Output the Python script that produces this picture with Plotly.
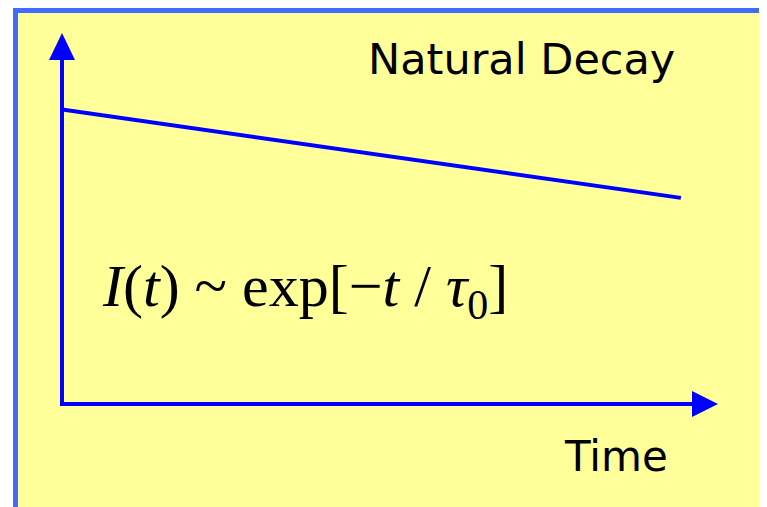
import plotly.graph_objects as go

# Data
time = [0, 10]
intensity = [1.0, 0.70]
title_text = "Natural Decay"
x_label = "Time"
formula = "<i>I</i>(<i>t</i>) ~ exp[−<i>t</i> / <i>τ</i><sub>0</sub>]"

# page has an 8px body margin; work in reference pixel coordinates
OFF = 8
W, H = 767 - OFF, 507 - OFF
L, R, T, B = 62 - OFF, 767 - 718, 33 - OFF, 507 - 404
PW, PH = W - L - R, H - T - B

def px(x):
    return (x - OFF - L) / PW

def py(y):
    return (H - B - (y - OFF)) / PH

BLUE = "#0000FF"
BORDER = "#3F6BFF"
YELLOW = "#FFFF99"

fig = go.Figure()
fig.add_trace(go.Scatter(x=time, y=intensity, mode="lines",
                         line=dict(color=BLUE, width=4), showlegend=False,
                         hoverinfo="skip"))

shapes = [
    dict(type="rect", xref="paper", yref="paper", x0=px(13), x1=px(790), y0=py(8), y1=py(530),
         fillcolor=BORDER, line=dict(width=0), layer="below"),
    dict(type="rect", xref="paper", yref="paper", x0=px(18), x1=px(790), y0=py(13), y1=py(530),
         fillcolor=YELLOW, line=dict(width=0), layer="below"),
    # axes
    dict(type="line", xref="paper", yref="paper", x0=px(62), x1=px(62), y0=py(406), y1=py(58),
         line=dict(color=BLUE, width=4)),
    dict(type="line", xref="paper", yref="paper", x0=px(60), x1=px(694), y0=py(404), y1=py(404),
         line=dict(color=BLUE, width=4)),
    # arrowheads
    dict(type="path", xref="paper", yref="paper",
         path=f"M {px(49)} {py(60)} L {px(62)} {py(33)} L {px(75)} {py(60)} Z",
         fillcolor=BLUE, line=dict(width=0)),
    dict(type="path", xref="paper", yref="paper",
         path=f"M {px(692)} {py(391)} L {px(718)} {py(404)} L {px(692)} {py(417)} Z",
         fillcolor=BLUE, line=dict(width=0)),
]

annotations = [
    dict(text=title_text, xref="paper", yref="paper", x=px(677), y=py(59),
         xanchor="right", yanchor="middle", showarrow=False,
         font=dict(family="DejaVu Sans", size=43, color="black")),
    dict(text=x_label, xref="paper", yref="paper", x=px(670), y=py(456),
         xanchor="right", yanchor="middle", showarrow=False,
         font=dict(family="DejaVu Sans", size=42, color="black")),
    dict(text=formula, xref="paper", yref="paper", x=px(100), y=py(290),
         xanchor="left", yanchor="middle", showarrow=False,
         font=dict(family="Liberation Serif", size=60, color="black")),
]

fig.update_layout(
    width=W, height=H,
    margin=dict(l=L, r=R, t=T, b=B, pad=0),
    paper_bgcolor="white", plot_bgcolor="rgba(0,0,0,0)",
    xaxis=dict(range=[0, 10.6], visible=False, fixedrange=True),
    yaxis=dict(range=[0, 1.26], visible=False, fixedrange=True),
    shapes=shapes, annotations=annotations,
)

fig.write_html("out.html")
